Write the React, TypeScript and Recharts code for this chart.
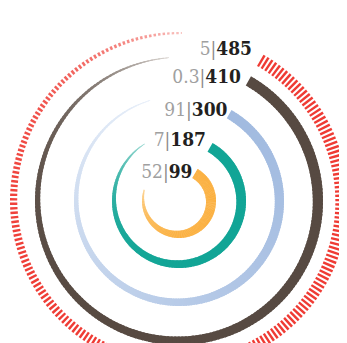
import React from 'react';
import { PieChart, Pie, Cell } from 'recharts';

// inner ring -> outer ring
const ringNames = ['orange', 'teal', 'blue', 'brown', 'red'];
const greyValues = ['52', '7', '91', '0.3', '5'];
const blackValues = [99, 187, 300, 410, 485];
// visible sweep of each ring, degrees (clockwise from the start)
const arcSweep = [258, 299, 314, 326, 331];

const ringStyles = [
  { outer: 37, w0: 10.5, w1: 1, c0: '#fbb040', c1: '#fcd495', cExp: 6, dashed: false, ldx: -5, ldy: 9.5 },
  { outer: 67, w0: 10, w1: 0.7, c0: '#12a596', c1: '#a6ddd7', cExp: 8, dashed: false, ldx: -6.5, ldy: 2.7 },
  { outer: 105, w0: 9.5, w1: 0.7, c0: '#a2bbe0', c1: '#e8eff9', cExp: 1.6, dashed: false, ldx: -4, ldy: 6 },
  { outer: 144, w0: 10.5, w1: 0.7, c0: '#574a42', c1: '#dcd7d3', cExp: 10, dashed: false, ldx: -10, ldy: 7 },
  { outer: 169, w0: 13, w1: 2, c0: '#ef3b34', c1: '#f9c4c1', cExp: 9, dashed: true, ldx: -11.5, ldy: 0 },
];

const CX = 171;
const CY = 193;
const RAD = Math.PI / 180;

const hex = (c: string) => [1, 3, 5].map((i) => parseInt(c.slice(i, i + 2), 16));
const mix = (a: string, b: string, t: number) => {
  const A = hex(a);
  const B = hex(b);
  const r = A.map((v, i) => Math.round(v + (B[i] - v) * t));
  return `rgb(${r[0]},${r[1]},${r[2]})`;
};
const pt = (cx: number, cy: number, r: number, a: number) => [cx + r * Math.cos(-a * RAD), cy + r * Math.sin(-a * RAD)];

function renderRing(ringIndex: number) {
  return (props: any) => {
    if (props.index !== 0) return null;
    const st = ringStyles[ringIndex];
    const { cx, cy, outerRadius, innerRadius, startAngle, endAngle } = props;
    const R = outerRadius;
    const w0 = outerRadius - innerRadius;
    const width = (t: number) => st.w1 + (w0 - st.w1) * (1 - t * t);
    const ang = (t: number) => startAngle + (endAngle - startAngle) * t;
    const col = (t: number) => mix(st.c0, st.c1, Math.pow(t, st.cExp));
    const parts: React.ReactNode[] = [];
    if (!st.dashed) {
      const N = 220;
      for (let i = 0; i < N; i++) {
        const t0 = i / N;
        const t1 = Math.min(1, (i + 1.6) / N);
        const a0 = ang(t0);
        const a1 = ang(t1);
        const p1 = pt(cx, cy, R, a0);
        const p2 = pt(cx, cy, R, a1);
        const p3 = pt(cx, cy, R - width(t1), a1);
        const p4 = pt(cx, cy, R - width(t0), a0);
        parts.push(
          <path
            key={i}
            d={`M${p1[0]},${p1[1]}L${p2[0]},${p2[1]}L${p3[0]},${p3[1]}L${p4[0]},${p4[1]}Z`}
            fill={col((t0 + t1) / 2)}
          />
        );
      }
    } else {
      const L = R * Math.abs(endAngle - startAngle) * RAD;
      const period = 4.6;
      const dash = 2.5;
      const n = Math.floor(L / period);
      for (let k = 0; k <= n; k++) {
        const t0 = (k * period) / L;
        const t1 = Math.min(1, (k * period + dash) / L);
        if (t0 >= 1) break;
        const w = width(t0);
        const a0 = ang(t0);
        const a1 = ang(t1);
        const p1 = pt(cx, cy, R, a0);
        const p2 = pt(cx, cy, R, a1);
        const p3 = pt(cx, cy, R - w, a1);
        const p4 = pt(cx, cy, R - w, a0);
        parts.push(
          <path
            key={k}
            d={`M${p1[0]},${p1[1]}L${p2[0]},${p2[1]}L${p3[0]},${p3[1]}L${p4[0]},${p4[1]}Z`}
            fill={col(t0)}
          />
        );
      }
    }
    const s = pt(cx, cy, R, startAngle);
    return (
      <g key={`ring-${ringIndex}`}>
        {parts}
        <text
          x={s[0] + st.ldx}
          y={s[1] + st.ldy}
          textAnchor="end"
          fontFamily="'DejaVu Serif Condensed', 'DejaVu Serif', serif"
          fontStretch="condensed"
          fontSize={19}
        >
          <tspan fill="#a0a0a0">{greyValues[ringIndex]}</tspan>
          <tspan fill="#8a8a8a">|</tspan>
          <tspan fill="#231f20" fontWeight="bold">{blackValues[ringIndex]}</tspan>
        </text>
      </g>
    );
  };
}

export default function App() {
  const order = [4, 3, 2, 1, 0];
  return (
    <div style={{ width: 339, height: 335, overflow: 'hidden', position: 'relative' }}>
      <PieChart width={339} height={400} margin={{ top: 0, right: 0, bottom: 0, left: 0 }}>
        {order.map((i) => {
          const st = ringStyles[i];
          const data = [
            { name: ringNames[i], value: arcSweep[i] },
            { name: 'rest', value: 360 - arcSweep[i] },
          ];
          return (
            <Pie
              key={ringNames[i]}
              data={data}
              dataKey="value"
              cx={CX}
              cy={CY}
              innerRadius={st.outer - st.w0}
              outerRadius={st.outer}
              startAngle={60}
              endAngle={-300}
              stroke="none"
              isAnimationActive={false}
              labelLine={false}
              label={renderRing(i)}
            >
              {data.map((d, j) => (
                <Cell key={j} fill="none" />
              ))}
            </Pie>
          );
        })}
      </PieChart>
    </div>
  );
}
